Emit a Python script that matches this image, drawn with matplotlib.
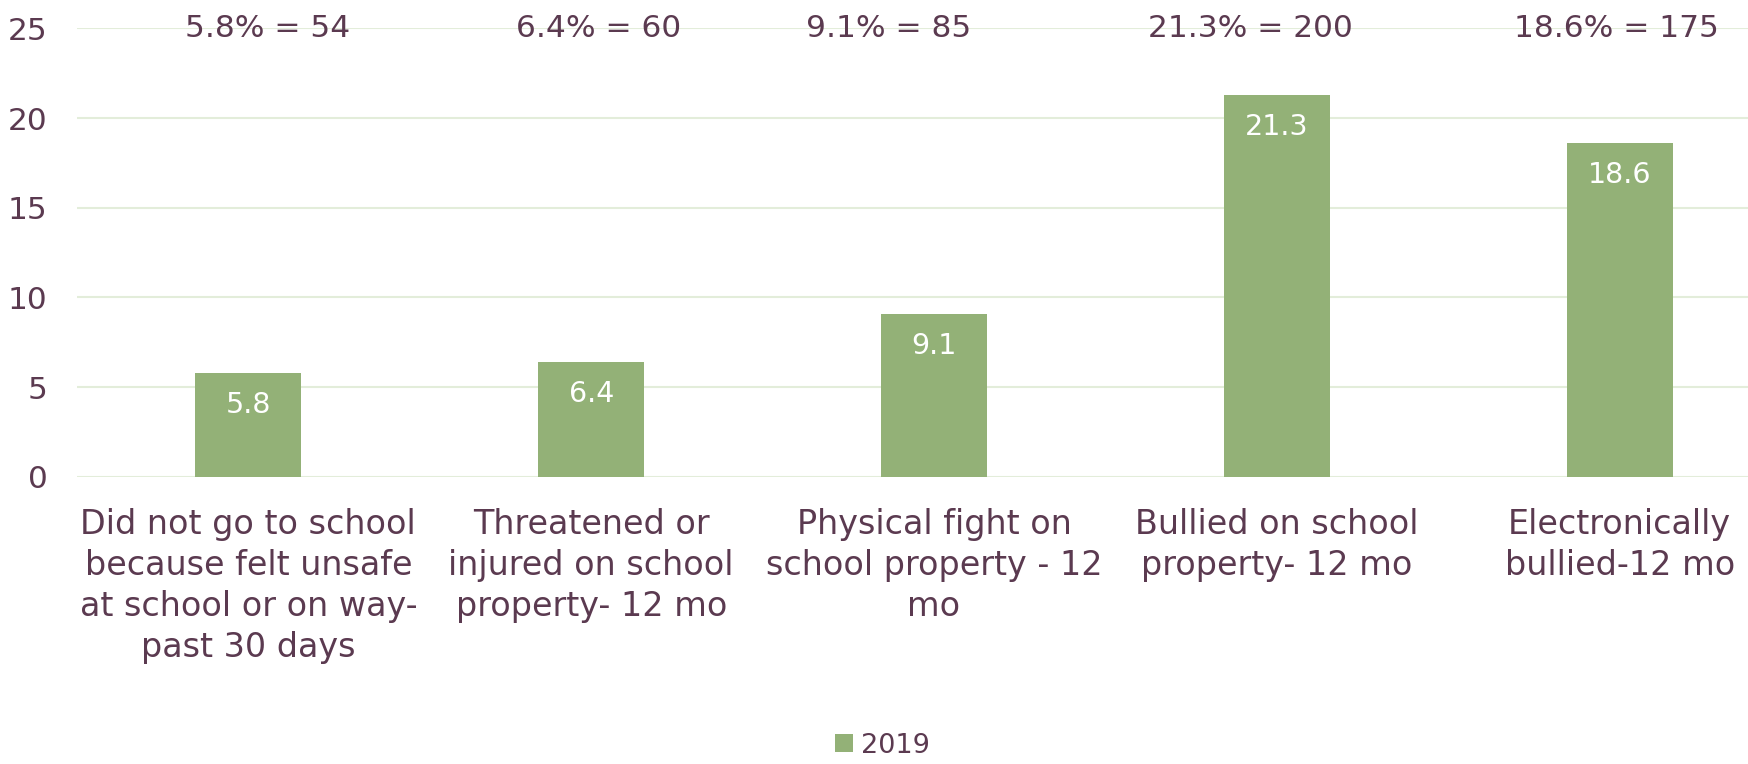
import numpy as np
import matplotlib.pyplot as plt

categories = ["Did not go to school\nbecause felt unsafe\nat school or on way-\npast 30 days",
              "Threatened or\ninjured on school\nproperty- 12 mo",
              "Physical fight on\nschool property - 12\nmo",
              "Bullied on school\nproperty- 12 mo",
              "Electronically\nbullied-12 mo"]
values = [5.8, 6.4, 9.1, 21.3, 18.6]
counts = [54, 60, 85, 200, 175]
series_name = "2019"

text_col = '#5B3A50'
bar_col = '#93B177'
grid_col = '#E3EDDA'

plt.rcParams['font.family'] = ['DejaVu Sans']

fig = plt.figure(figsize=(17.48, 7.64), dpi=100)
ax = fig.add_axes([0.044, 0.3757, 0.956, 0.5873])

x = np.arange(len(values))
bars = ax.bar(x, values, 0.31, color=bar_col, label=series_name, zorder=2)

for xi, v in zip(x, values):
    ax.text(xi, v - 1.8, f"{v}", ha='center', va='center', color='white', fontsize=20.5)

# headline annotations, placed like free text boxes in the original
head_x = [0.055, 1.021, 1.867, 2.924, 3.99]
for hx, v, c in zip(head_x, values, counts):
    ax.text(hx, 25, f"{v}% = {c}", ha='center', va='center', color=text_col, fontsize=22.5)

ax.set_xlim(-0.5, 4.374)
ax.set_ylim(0, 25)
ax.set_yticks(range(0, 26, 5))
ax.yaxis.grid(True, color=grid_col, linewidth=1.5, zorder=0)
ax.set_xticks(x)
ax.set_xticklabels(categories, fontsize=24, color=text_col, linespacing=1.31)
ax.tick_params(axis='y', labelsize=22.5, labelcolor=text_col, length=0, pad=21)
ax.tick_params(axis='x', length=0, pad=22)
for s in ax.spines.values():
    s.set_visible(False)

fig.legend(loc='lower center', bbox_to_anchor=(0.505, -0.025), frameon=False, fontsize=19.5,
           labelcolor=text_col, handlelength=0.65, handleheight=0.65, handletextpad=0.3)

fig.savefig('out.png', dpi=100)
